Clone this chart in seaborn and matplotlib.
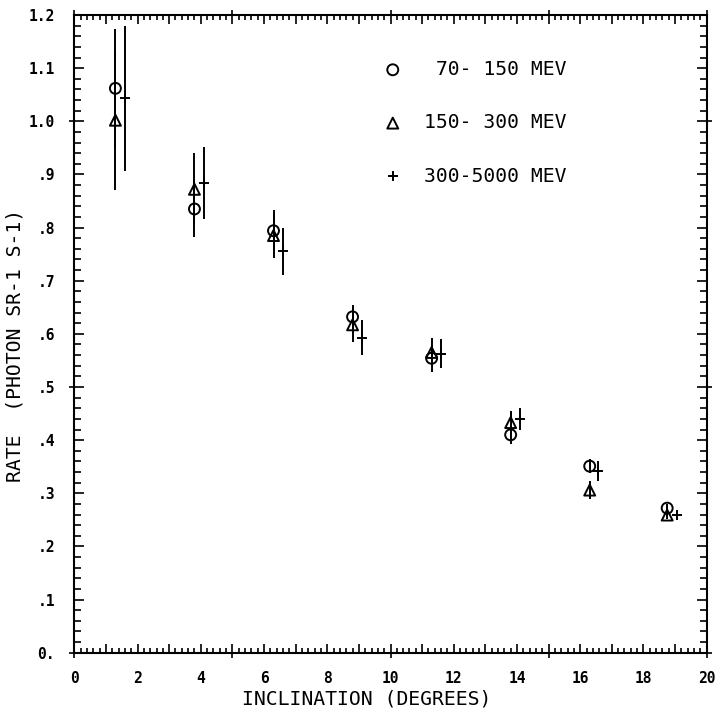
import numpy as np
import pandas as pd
import seaborn as sns
import matplotlib.pyplot as plt
from matplotlib.ticker import FixedLocator, FixedFormatter, MultipleLocator, NullFormatter

# Inclination bin centres (degrees); the highest energy band is shifted right
incl_low = [1.3, 3.8, 6.3, 8.8, 11.3, 13.8, 16.3, 18.75]
incl_high = [1.6, 4.1, 6.6, 9.1, 11.6, 14.1, 16.55, 19.05]

# Rates (photon sr-1 s-1) and one-sigma errors per energy band
rate_70_150 = [1.062, 0.835, 0.794, 0.632, 0.554, 0.410, 0.351, 0.272]
err_70_150 = [0.112, 0.053, 0.039, 0.022, 0.025, 0.017, 0.013, 0.008]
rate_150_300 = [1.002, 0.872, 0.785, 0.617, 0.565, 0.433, 0.306, 0.259]
err_150_300 = [0.132, 0.068, 0.043, 0.033, 0.027, 0.022, 0.017, 0.008]
rate_300_5000 = [1.043, 0.884, 0.755, 0.593, 0.563, 0.440, 0.342, 0.259]
err_300_5000 = [0.137, 0.068, 0.045, 0.033, 0.027, 0.020, 0.018, 0.010]

band_labels = [" 70- 150 MEV", "150- 300 MEV", "300-5000 MEV"]

x_tick_values = list(range(0, 21))
x_tick_labels = ["0", "", "2", "", "4", "", "6", "", "8", "", "10", "",
                 "12", "", "14", "", "16", "", "18", "", "20"]
y_tick_values = [0.0, 0.1, 0.2, 0.3, 0.4, 0.5, 0.6, 0.7, 0.8, 0.9, 1.0, 1.1, 1.2]
y_tick_labels = ["0.", ".1", ".2", ".3", ".4", ".5", ".6", ".7", ".8", ".9",
                 "1.0", "1.1", "1.2"]
x_cross_ticks = [0, 5, 10, 15, 20]
y_cross_ticks = [0.0, 0.5, 1.0]

sns.set_theme(style="ticks")
plt.rcParams["font.family"] = ["DejaVu Sans Mono", "DejaVu Sans"]
plt.rcParams["text.color"] = "black"
plt.rcParams["axes.labelcolor"] = "black"

fig = plt.figure(figsize=(7.16, 7.10), dpi=100)
ax = fig.add_axes([74.3 / 716, 1 - 652.7 / 710, 632.4 / 716, 637.7 / 710])

series = [
    (incl_low, rate_70_150, err_70_150, "o", 62),
    (incl_low, rate_150_300, err_150_300, "^", 62),
    (incl_high, rate_300_5000, err_300_5000, "+", 55),
]
for (xv, yv, ev, mk, sz), lab in zip(series, band_labels):
    df = pd.DataFrame({"incl": xv, "rate": yv})
    ax.errorbar(xv, yv, yerr=ev, fmt="none", ecolor="black",
                elinewidth=1.4, capsize=0, zorder=2)
    kw = dict(edgecolor="black") if mk != "+" else {}
    sns.scatterplot(data=df, x="incl", y="rate", marker=mk, s=sz, ax=ax,
                    color="black", linewidth=1.4, label=lab, zorder=3, **kw)
    if mk != "+":
        ax.collections[-1].set_facecolor("none")

ax.set_xlim(0, 20)
ax.set_ylim(0, 1.2)

ax.xaxis.set_major_locator(FixedLocator(x_tick_values))
ax.xaxis.set_major_formatter(FixedFormatter(x_tick_labels))
ax.xaxis.set_minor_locator(MultipleLocator(0.2))
ax.yaxis.set_major_locator(FixedLocator(y_tick_values))
ax.yaxis.set_major_formatter(FixedFormatter(y_tick_labels))
ax.yaxis.set_minor_locator(MultipleLocator(0.02))

ax.tick_params(axis="both", which="both", direction="in", color="black",
               width=1.2, top=True, right=True, labelcolor="black")
ax.tick_params(axis="x", which="major", length=6.5, pad=13, labelsize=10.5)
ax.tick_params(axis="x", which="minor", length=3.5)
ax.tick_params(axis="y", which="major", length=7, pad=13.9, labelsize=10.5)
ax.tick_params(axis="y", which="minor", length=5.2)
plt.setp(ax.get_xticklabels() + ax.get_yticklabels(), fontweight="bold")

for sp in ax.spines.values():
    sp.set_linewidth(1.5)
    sp.set_color("black")

# Short outward ticks crossing the frame at the main divisions
for side in ["bottom", "top"]:
    sec = ax.secondary_xaxis(side)
    sec.set_xticks(x_cross_ticks)
    sec.xaxis.set_major_formatter(NullFormatter())
    sec.tick_params(direction="out", length=3.6, width=1.2, color="black")
    sec.spines[side].set_visible(False)
for side in ["left", "right"]:
    sec = ax.secondary_yaxis(side)
    sec.set_yticks(y_cross_ticks)
    sec.yaxis.set_major_formatter(NullFormatter())
    sec.tick_params(direction="out", length=3.6, width=1.2, color="black")
    sec.spines[side].set_visible(False)

ax.set_xlabel("INCLINATION (DEGREES)", fontsize=14.2)
ax.xaxis.set_label_coords(0.463, -0.0575)
ax.set_ylabel("RATE  (PHOTON SR-1 S-1)", fontsize=14.2)
ax.yaxis.set_label_coords(-0.0787, 0.4825)

handles, labels = ax.get_legend_handles_labels()
ax.legend(handles, labels, loc="upper left", bbox_to_anchor=(0.488, 0.9295),
          frameon=False, borderpad=0, borderaxespad=0, handlelength=1.0,
          handletextpad=1.1, labelspacing=1.74, fontsize=14.2, scatterpoints=1)

fig.savefig("out.png", dpi=100)
